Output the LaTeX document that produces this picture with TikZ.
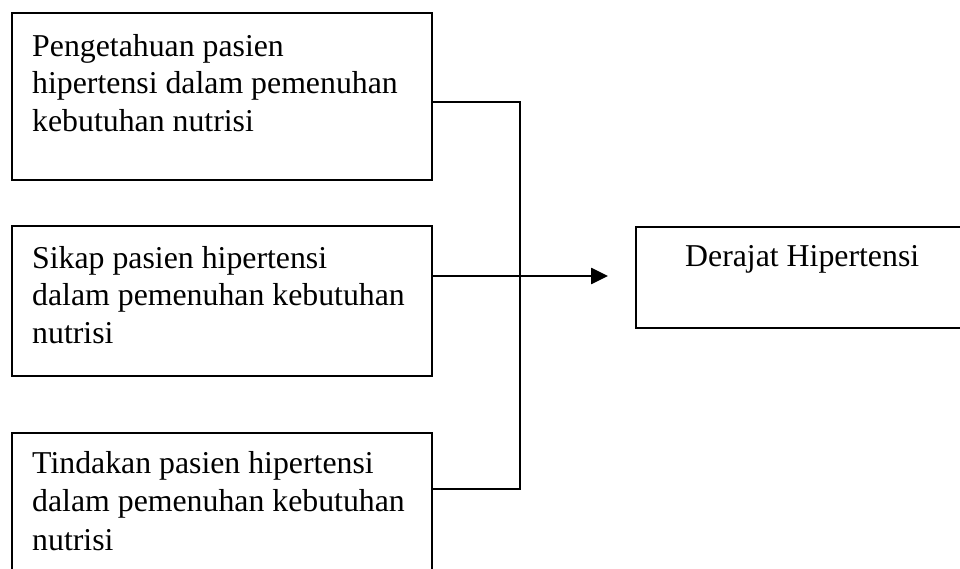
\documentclass[tikz,border=0pt]{standalone}
\usepackage{fontspec}
\setmainfont{Liberation Serif}
\usetikzlibrary{arrows.meta}
\begin{document}
\begin{tikzpicture}[x=1pt,y=-1pt,
  box/.style={draw, rectangle, line width=1.6pt, anchor=north west, inner sep=0pt},
  txt/.style={anchor=north west, inner sep=0pt, align=left, font=\fontsize{31.8}{37.5}\selectfont},
  conn/.style={draw, line width=1.6pt}]
\useasboundingbox (0,0) rectangle (960,569);
\node[box, minimum width=420pt, minimum height=167pt] (kn) at (11,12) {};
\node[box, minimum width=420pt, minimum height=150pt] (sk) at (11,225) {};
\node[box, minimum width=420pt, minimum height=150pt] (td) at (11,432) {};
\node[box, minimum width=330pt, minimum height=101pt] (dh) at (635,226) {};
\node[txt] (kntext) at (32,34) {Pengetahuan pasien\\hipertensi dalam pemenuhan\\kebutuhan nutrisi};
\node[txt] (sktext) at (32,246) {Sikap pasien hipertensi\\dalam pemenuhan kebutuhan\\nutrisi};
\node[txt, font=\fontsize{31.8}{38.5}\selectfont] (tdtext) at (32,451) {Tindakan pasien hipertensi\\dalam pemenuhan kebutuhan\\nutrisi};
\node[txt] (dhtext) at (685,245) {Derajat Hipertensi};
\coordinate (j1) at (520,102);
\coordinate (j2) at (520,276);
\coordinate (j3) at (520,489);
\coordinate (tip) at (608,276);
\path[conn] (kn.east |- j1) -- (j1) -- (j3) -- (td.east |- j3);
\path[conn] (sk.east |- j2) -- (j2);
\path[conn, line width=2.6pt, -{Triangle[length=17pt,width=16pt]}] (j2) -- (tip);
\end{tikzpicture}
\end{document}
